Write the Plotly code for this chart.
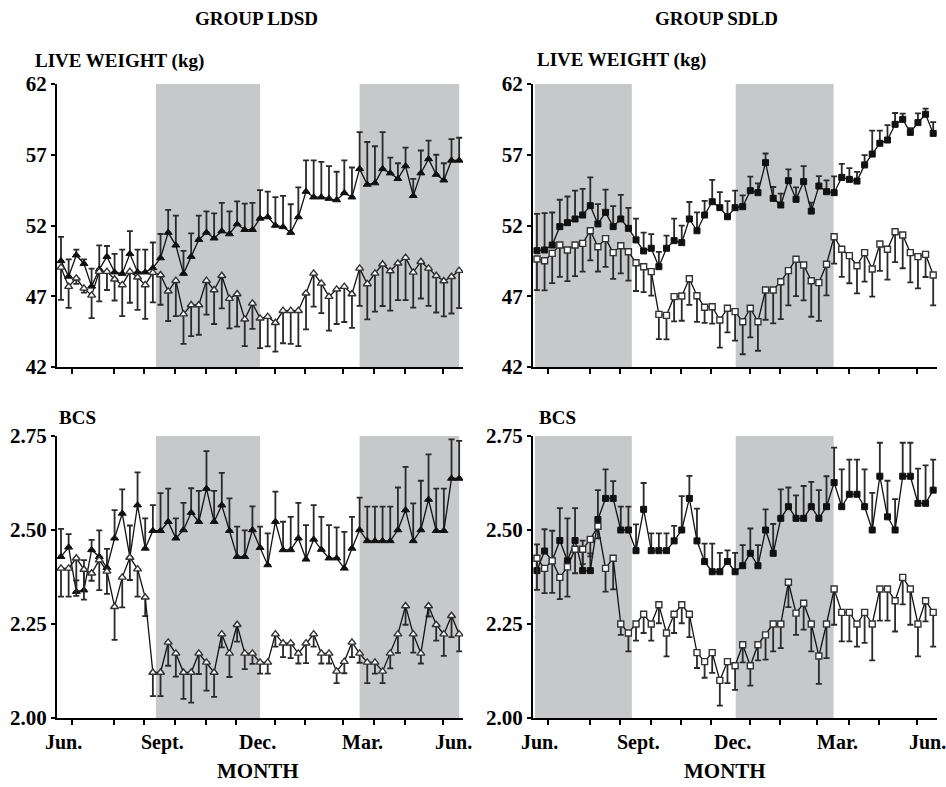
import plotly.graph_objects as go

W, H = 946, 787
weeks = list(range(53))

# ---- data: LIVE WEIGHT, group LDSD ----
lw_ldsd_a = [49.5, 48.4, 49.9, 49.3, 47.7, 48.9, 49.8, 48.7, 48.6, 50.0, 48.7, 48.7, 49.0, 49.7, 51.5, 50.6, 48.6, 49.8, 51.0, 51.5,
             51.1, 51.6, 51.4, 52.1, 51.7, 51.7, 52.5, 52.6, 52.0, 51.9, 51.5, 52.6, 54.4, 54.0, 54.0, 53.9, 53.8, 54.3, 54.0, 56.0,
             54.9, 55.0, 56.0, 55.7, 55.3, 56.2, 54.1, 55.7, 56.7, 55.6, 55.2, 56.6, 56.6]
lw_ldsd_a_err = [1.7, 1.2, 0.4, 0.3, 1.25, 1.7, 0.75, 1.3, 1.7, 1.6, 1.6, 1.6, 1.8, 1.7, 1.6, 2.1, 1.6, 1.65, 1.7, 1.5,
                 1.75, 2.0, 1.6, 1.6, 1.85, 1.9, 2.0, 1.8, 2.0, 2.2, 2.0, 2.1, 2.2, 2.6, 2.5, 2.3, 2.0, 2.3, 2.1, 2.6,
                 3.0, 2.6, 2.6, 1.1, 1.1, 1.3, 1.2, 1.6, 1.3, 1.4, 1.2, 1.5, 1.6]
lw_ldsd_b = [49.04, 47.68, 48.27, 47.56, 47.06, 48.74, 48.74, 48.20, 47.80, 48.74, 48.34, 47.80, 48.67, 48.50, 47.35, 48.10, 45.74, 46.38, 46.38, 48.10,
             47.44, 48.45, 46.83, 47.16, 45.37, 46.50, 45.44, 45.56, 45.13, 45.98, 45.98, 45.98, 47.21, 48.62, 47.91, 46.97, 47.49, 47.68, 47.16, 48.97,
             47.87, 48.62, 49.26, 48.78, 49.33, 49.73, 48.69, 49.44, 48.97, 48.45, 48.08, 48.38, 48.81]
lw_ldsd_b_err = [2.3, 1.5, 0.4, 0.3, 1.6, 2.1, 1.3, 1.5, 2.2, 2.2, 2.3, 2.4, 2.1, 2.1, 2.1, 2.5, 2.1, 2.2, 2.1, 2.4,
                 2.4, 2.3, 2.1, 2.3, 1.9, 1.8, 2.1, 2.1, 2.05, 2.3, 2.35, 2.5, 2.55, 2.35, 2.1, 2.4, 2.45, 2.5, 2.4, 2.65,
                 2.5, 2.7, 2.95, 2.8, 2.6, 3.0, 2.5, 2.6, 2.65, 2.6, 2.5, 2.6, 2.65]

# ---- data: LIVE WEIGHT, group SDLD ----
lw_sdld_a = [50.22, 50.27, 50.62, 51.92, 52.20, 52.46, 52.74, 53.40, 52.11, 52.93, 51.92, 52.46, 51.80, 50.98, 50.20, 50.39, 49.09, 50.39, 50.93, 50.79,
             52.46, 51.63, 52.74, 53.68, 53.26, 52.62, 53.26, 53.33, 54.46, 54.32, 56.44, 53.92, 53.45, 55.17, 53.85, 55.10, 53.02, 54.79, 54.39, 54.32,
             55.40, 55.26, 55.14, 56.28, 57.05, 57.81, 58.04, 59.15, 59.50, 58.58, 59.27, 59.86, 58.51]
lw_sdld_a_err = [2.6, 2.6, 2.3, 1.9, 1.85, 2.0, 1.85, 2.0, 1.4, 1.6, 1.45, 1.7, 1.45, 1.5, 1.3, 1.0, 1.05, 0.9, 1.55, 1.2,
                 1.2, 1.3, 1.0, 1.55, 1.1, 1.1, 1.2, 0.8, 1.0, 0.65, 0.65, 0.8, 0.8, 0.8, 0.85, 1.1, 0.6, 0.7, 0.8, 1.15,
                 0.95, 0.8, 0.65, 0.7, 1.65, 0.9, 1.05, 0.8, 0.4, 0.3, 0.65, 0.4, 0.8]
lw_sdld_b = [49.63, 49.51, 50.03, 50.62, 50.27, 50.62, 50.74, 51.63, 50.50, 51.07, 50.08, 50.57, 50.15, 49.37, 49.09, 48.74, 45.72, 45.65, 46.97, 47.02,
             48.24, 47.04, 46.22, 46.26, 45.32, 46.15, 45.91, 45.20, 46.15, 45.20, 47.44, 47.44, 48.03, 48.81, 49.61, 49.21, 48.10, 47.96, 49.26, 51.21,
             50.32, 49.87, 49.16, 50.08, 48.93, 50.69, 50.32, 51.56, 51.33, 50.08, 49.80, 49.96, 48.50]
lw_sdld_b_err = [2.2, 2.1, 2.1, 2.25, 2.2, 2.2, 2.0, 2.1, 1.75, 2.0, 1.85, 1.95, 2.05, 2.0, 1.8, 1.7, 1.75, 1.7, 1.75, 1.75,
                 1.85, 1.85, 1.1, 1.2, 1.95, 1.7, 2.05, 2.3, 2.05, 2.05, 2.1, 2.35, 2.65, 2.45, 2.6, 2.5, 2.55, 2.7, 2.2, 1.9,
                 1.95, 1.95, 1.95, 2.05, 1.95, 1.9, 2.15, 2.15, 2.35, 2.1, 2.25, 1.6, 2.15]

# ---- data: BCS, group LDSD ----
bcs_ldsd_a = [2.429, 2.454, 2.336, 2.340, 2.447, 2.429, 2.400, 2.478, 2.544, 2.427, 2.566, 2.451, 2.498, 2.498, 2.522, 2.478, 2.500, 2.546, 2.522, 2.610,
              2.522, 2.566, 2.498, 2.429, 2.429, 2.500, 2.453, 2.407, 2.522, 2.447, 2.447, 2.478, 2.422, 2.475, 2.448, 2.425, 2.425, 2.398, 2.451, 2.500,
              2.471, 2.471, 2.471, 2.471, 2.500, 2.553, 2.471, 2.500, 2.581, 2.498, 2.498, 2.637, 2.637]
bcs_ldsd_a_err = [0.074, 0.035, 0.03, 0.08, 0.027, 0.07, 0.05, 0.075, 0.064, 0.085, 0.087, 0.08, 0.068, 0.10, 0.088, 0.053, 0.072, 0.065, 0.082, 0.10,
                  0.082, 0.086, 0.086, 0.08, 0.07, 0.063, 0.056, 0.084, 0.08, 0.075, 0.088, 0.094, 0.091, 0.091, 0.087, 0.088, 0.082, 0.097, 0.084, 0.086,
                  0.091, 0.091, 0.091, 0.091, 0.113, 0.115, 0.10, 0.131, 0.12, 0.112, 0.112, 0.104, 0.10]
bcs_ldsd_b = [2.398, 2.398, 2.425, 2.395, 2.385, 2.420, 2.390, 2.296, 2.374, 2.427, 2.396, 2.321, 2.121, 2.121, 2.201, 2.172, 2.121, 2.121, 2.172, 2.148,
              2.121, 2.223, 2.172, 2.248, 2.172, 2.172, 2.148, 2.148, 2.223, 2.199, 2.199, 2.172, 2.199, 2.223, 2.172, 2.172, 2.124, 2.150, 2.201, 2.172,
              2.148, 2.148, 2.124, 2.172, 2.223, 2.298, 2.223, 2.172, 2.298, 2.248, 2.223, 2.272, 2.223]
bcs_ldsd_b_err = [0.075, 0.075, 0.10, 0.08, 0.02, 0.08, 0.06, 0.088, 0.08, 0.06, 0.073, 0.05, 0.063, 0.063, 0.062, 0.062, 0.07, 0.08, 0.055, 0.075,
                  0.065, 0.035, 0.063, 0.045, 0.042, 0.028, 0.03, 0.03, 0.033, 0.037, 0.04, 0.027, 0.053, 0.033, 0.027, 0.027, 0.031, 0.031, 0.039, 0.025,
                  0.055, 0.03, 0.031, 0.04, 0.05, 0.05, 0.049, 0.027, 0.028, 0.042, 0.058, 0.057, 0.046]

# ---- data: BCS, group SDLD ----
bcs_sdld_a = [2.392, 2.444, 2.418, 2.472, 2.418, 2.472, 2.392, 2.392, 2.528, 2.584, 2.584, 2.500, 2.500, 2.445, 2.555, 2.445, 2.445, 2.445, 2.471, 2.500,
              2.584, 2.471, 2.416, 2.389, 2.389, 2.416, 2.389, 2.405, 2.438, 2.405, 2.500, 2.438, 2.531, 2.562, 2.531, 2.531, 2.562, 2.531, 2.562, 2.626,
              2.562, 2.595, 2.595, 2.562, 2.500, 2.643, 2.535, 2.500, 2.643, 2.643, 2.571, 2.571, 2.606]
bcs_sdld_a_err = [0.07, 0.058, 0.08, 0.086, 0.113, 0.086, 0.08, 0.046, 0.078, 0.077, 0.046, 0.062, 0.062, 0.07, 0.07, 0.046, 0.046, 0.046, 0.04, 0.09,
                  0.06, 0.086, 0.048, 0.075, 0.05, 0.03, 0.05, 0.055, 0.066, 0.055, 0.055, 0.078, 0.077, 0.051, 0.061, 0.086, 0.066, 0.075, 0.081, 0.093,
                  0.099, 0.092, 0.092, 0.099, 0.099, 0.089, 0.096, 0.082, 0.089, 0.089, 0.092, 0.101, 0.081]
bcs_sdld_b = [2.425, 2.398, 2.418, 2.374, 2.402, 2.449, 2.449, 2.475, 2.510, 2.398, 2.425, 2.250, 2.226, 2.250, 2.276, 2.250, 2.301, 2.226, 2.276, 2.301,
              2.276, 2.174, 2.150, 2.174, 2.100, 2.150, 2.139, 2.195, 2.139, 2.195, 2.221, 2.250, 2.250, 2.361, 2.279, 2.305, 2.250, 2.165, 2.250, 2.343,
              2.281, 2.281, 2.250, 2.281, 2.250, 2.343, 2.343, 2.312, 2.374, 2.343, 2.250, 2.312, 2.281]
bcs_sdld_b_err = [0.084, 0.066, 0.085, 0.058, 0.079, 0.064, 0.04, 0.045, 0.032, 0.062, 0.083, 0.029, 0.049, 0.044, 0.05, 0.044, 0.049, 0.062, 0.05, 0.049,
                  0.061, 0.041, 0.043, 0.054, 0.067, 0.057, 0.064, 0.047, 0.053, 0.042, 0.066, 0.073, 0.064, 0.066, 0.058, 0.07, 0.073, 0.074, 0.091, 0.095,
                  0.077, 0.077, 0.06, 0.081, 0.097, 0.084, 0.084, 0.082, 0.072, 0.095, 0.086, 0.055, 0.091]

# month axis
tick_weeks = [1.4, 6.9, 10.9, 14.9, 18.9, 22.9, 27.9, 31.9, 36.8, 40.9, 44.9, 49.9]
month_labels = ["Jun.", "Sept.", "Dec.", "Mar.", "Jun."]
month_label_weeks = [0.3, 13.3, 25.6, 39.4, 51.3]

# shaded periods (weeks)
shade_ldsd = [(12.4, 26.0), (39.0, 52.0)]
shade_sdld = [(-0.26, 12.45), (26.08, 38.93)]

FONT = "Liberation Serif"
LINE = "#111111"
SHADE = "#c7c8ca"


def px(x):
    return x / W


def py(y):
    return 1 - y / H


fig = go.Figure()


def add_pair(xa, ya, a, a_err, b, b_err, sym, size):
    n = len(a)
    fig.add_trace(go.Scatter(
        x=weeks, y=a, mode="lines+markers", xaxis=xa, yaxis=ya,
        line=dict(color=LINE, width=1.3),
        marker=dict(symbol=sym, size=size, color="#111111", line=dict(color="#111111", width=1)),
        error_y=dict(type="data", symmetric=False, array=a_err, arrayminus=[0] * n,
                     color="#2a2a2a", thickness=1.8, width=3),
        showlegend=False, hoverinfo="skip"))
    fig.add_trace(go.Scatter(
        x=weeks, y=b, mode="lines+markers", xaxis=xa, yaxis=ya,
        line=dict(color=LINE, width=1.3),
        marker=dict(symbol=sym, size=size, color="white", line=dict(color="#333333", width=1.4)),
        error_y=dict(type="data", symmetric=False, array=[0] * n, arrayminus=b_err,
                     color="#2a2a2a", thickness=1.8, width=3),
        showlegend=False, hoverinfo="skip"))


add_pair("x", "y", lw_ldsd_a, lw_ldsd_a_err, lw_ldsd_b, lw_ldsd_b_err, "triangle-up", 7)
add_pair("x2", "y2", lw_sdld_a, lw_sdld_a_err, lw_sdld_b, lw_sdld_b_err, "square", 6)
add_pair("x3", "y3", bcs_ldsd_a, bcs_ldsd_a_err, bcs_ldsd_b, bcs_ldsd_b_err, "triangle-up", 7)
add_pair("x4", "y4", bcs_sdld_a, bcs_sdld_a_err, bcs_sdld_b, bcs_sdld_b_err, "square", 6)

xdom_l = [57 / W, 463 / W]
xdom_r = [533 / W, 937 / W]
ydom_t = [py(367), py(84)]
ydom_b = [py(718), py(436)]

tickfont = dict(family=FONT, size=21, color="black", weight="bold")


def xaxis(dom, anchor):
    return dict(domain=dom, anchor=anchor, range=[-0.52, 52.5], showgrid=False, zeroline=False,
                showline=True, linecolor="black", linewidth=2, ticks="outside", ticklen=5,
                tickwidth=1.5, tickcolor="black", tickvals=tick_weeks, showticklabels=False,
                fixedrange=True)


def yaxis(dom, anchor, rng, tv, tt):
    return dict(domain=dom, anchor=anchor, range=rng, showgrid=False, zeroline=False,
                showline=True, linecolor="black", linewidth=2, ticks="outside", ticklen=4,
                tickwidth=1.5, tickcolor="black", tickvals=tv, ticktext=tt, tickfont=tickfont,
                fixedrange=True)


lw_ticks = [42, 47, 52, 57, 62]
bcs_ticks = [2.0, 2.25, 2.5, 2.75]
bcs_text = ["2.00", "2.25", "2.50", "2.75"]

fig.update_layout(
    width=W, height=H, margin=dict(l=0, r=0, t=0, b=0, autoexpand=False),
    paper_bgcolor="white", plot_bgcolor="rgba(0,0,0,0)",
    xaxis=xaxis(xdom_l, "y"), yaxis=yaxis(ydom_t, "x", [42, 62], lw_ticks, [str(v) for v in lw_ticks]),
    xaxis2=xaxis(xdom_r, "y2"), yaxis2=yaxis(ydom_t, "x2", [42, 62], lw_ticks, [str(v) for v in lw_ticks]),
    xaxis3=xaxis(xdom_l, "y3"), yaxis3=yaxis(ydom_b, "x3", [2.0, 2.75], bcs_ticks, bcs_text),
    xaxis4=xaxis(xdom_r, "y4"), yaxis4=yaxis(ydom_b, "x4", [2.0, 2.75], bcs_ticks, bcs_text),
)

shapes = []
for xr, yr, periods in [("x", "y", shade_ldsd), ("x2", "y2", shade_sdld),
                        ("x3", "y3", shade_ldsd), ("x4", "y4", shade_sdld)]:
    for x0, x1 in periods:
        shapes.append(dict(type="rect", xref=xr, yref=yr + " domain", x0=x0, x1=x1, y0=0, y1=1,
                           fillcolor=SHADE, line=dict(width=0), layer="below"))
fig.update_layout(shapes=shapes)

ann = []


def text(t, x, y, size, xanchor="center"):
    ann.append(dict(text=t, x=px(x), y=py(y), xref="paper", yref="paper", showarrow=False,
                    xanchor=xanchor, yanchor="middle",
                    font=dict(family=FONT, size=size, color="black", weight="bold")))


text("GROUP LDSD", 256, 19, 19)
text("GROUP SDLD", 716, 19, 19)
text("LIVE WEIGHT (kg)", 33, 61, 19, "left")
text("LIVE WEIGHT (kg)", 535, 60, 19, "left")
text("BCS", 57, 418, 19, "left")
text("BCS", 537, 418, 19, "left")
text("MONTH", 258, 771, 21)
text("MONTH", 725, 771, 21)

for xa in ["x3", "x4"]:
    for lab, wk in zip(month_labels, month_label_weeks):
        ann.append(dict(text=lab, x=wk, y=py(742), xref=xa, yref="paper", showarrow=False,
                        xanchor="center", yanchor="middle",
                        font=dict(family=FONT, size=20, color="black", weight="bold")))

fig.update_layout(annotations=ann)
fig.write_html("out.html")
